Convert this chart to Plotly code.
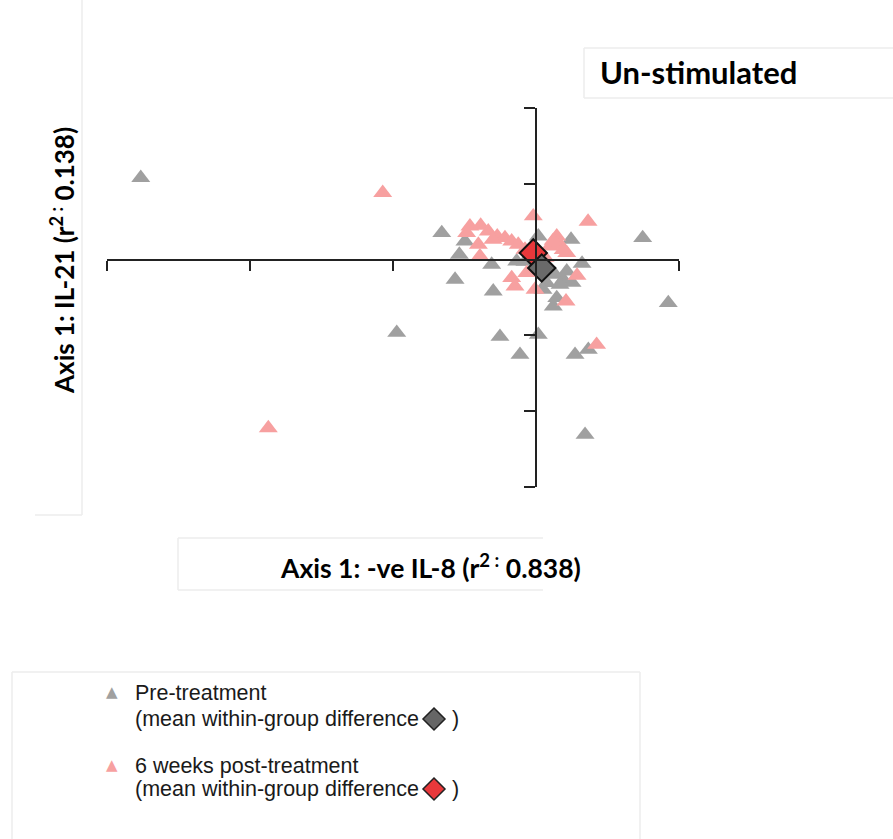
import plotly.graph_objects as go

# ---- data (ordination scores) ----
pre_x = [-2.764, -0.974, -0.659, -0.497, -0.536, -0.566, -0.310, -0.299, -0.252, -0.112,
         0.016, 0.343, 0.273, 0.366, 0.746, 0.925, 0.245, 0.322, 0.121, 0.145,
         0.016, 0.133, 0.191, 0.215, 0.075, -0.135, -0.077, 0.252, 0.049, 0.168]
pre_y = [1.079, -0.964, 0.352, 0.242, 0.066, -0.264, -0.066, -0.418, -1.017, -1.254,
         -0.990, -2.310, -1.254, -1.188, 0.286, -0.572, 0.264, -0.053, -0.617, -0.506,
         0.308, -0.198, -0.264, -0.154, -0.308, -0.022, -0.026, -0.304, -0.396, -0.330]

post_x = [-1.872, -1.072, -0.019, 0.364, 0.424, 0.210, 0.287, -0.007, -0.170, -0.147,
          -0.462, -0.387, -0.334, -0.271, -0.217, -0.170, -0.124, -0.403, -0.392, 0.145,
          0.098, 0.215, -0.065, -0.485, -0.077, 0.063, 0.168, -0.301, 0.120, 0.190]
post_y = [-2.222, 0.881, 0.572, 0.502, -1.122, -0.551, -0.211, -0.396, -0.242, -0.352,
          0.440, 0.449, 0.374, 0.308, 0.286, 0.242, 0.198, 0.198, 0.044, 0.308,
          0.176, 0.088, -0.176, 0.352, 0.132, 0.026, 0.198, 0.264, 0.250, 0.130]

mean_post = [-0.019, 0.088]
mean_pre = [0.040, -0.110]

x_ticks = [-3, -2, -1, 0, 1]
y_ticks = [-3, -2, -1, 0, 1, 2]

GREY = "#a0a0a0"
PINK = "#f7a0a0"

# ---- page geometry helpers (pixel -> paper) ----
L, R, T, B = 107, 679, 108, 487
W, H = 893, 839


def px(x):
    return (x - L) / (R - L)


def py(y):
    return (B - y) / (B - T)


fig = go.Figure()
fig.add_trace(go.Scatter(x=pre_x, y=pre_y, mode="markers", name="Pre-treatment",
                         marker=dict(symbol="triangle-up", size=16.5, color=GREY,
                                     line=dict(width=0))))
fig.add_trace(go.Scatter(x=post_x, y=post_y, mode="markers", name="6 weeks post-treatment",
                         marker=dict(symbol="triangle-up", size=16.5, color=PINK,
                                     line=dict(width=0))))
fig.add_trace(go.Scatter(x=[mean_post[0]], y=[mean_post[1]], mode="markers",
                         marker=dict(symbol="diamond", size=21, color="#e8383b",
                                     line=dict(width=2, color="#111111"))))
fig.add_trace(go.Scatter(x=[mean_pre[0]], y=[mean_pre[1]], mode="markers",
                         marker=dict(symbol="diamond", size=21, color="#6a6a6a",
                                     line=dict(width=2, color="#111111"))))

xr = [x_ticks[0], x_ticks[-1]]
yr = [y_ticks[0], y_ticks[-1]]

fig.update_xaxes(range=xr, tickvals=x_ticks, showticklabels=False, ticks="outside",
                 ticklen=10, tickwidth=2, tickcolor="#222222", showline=True,
                 linewidth=2, linecolor="#222222", showgrid=False, zeroline=False,
                 anchor="free", position=(0 - yr[0]) / (yr[1] - yr[0]))
fig.update_yaxes(range=yr, tickvals=y_ticks, showticklabels=False, ticks="outside",
                 ticklen=11, tickwidth=2, tickcolor="#222222", showline=True,
                 linewidth=2, linecolor="#222222", showgrid=False, zeroline=False,
                 anchor="free", position=(0 - xr[0]) / (xr[1] - xr[0]))

TFONT = "Lato"
LFONT = dict(family="Liberation Sans", size=21.5, color="#1a1a1a")
annos = [
    dict(x=px(430), y=py(566), text="Axis 1: -ve IL-8 (r<sup>2 :</sup> 0.838)",
         font=dict(family=TFONT, size=26.5, color="black", weight="bold")),
    dict(x=px(62), y=py(261), text="Axis 1: IL-21 (r<sup>2 :</sup> 0.138)", textangle=-90,
         font=dict(family=TFONT, size=26, color="black", weight="bold")),
    dict(x=px(598), y=py(72), xanchor="left", text="Un-stimulated",
         font=dict(family=TFONT, size=31, color="black", weight="bold")),
    dict(x=px(112), y=py(692), text="▲", font=dict(family="DejaVu Sans", size=15, color=GREY)),
    dict(x=px(112), y=py(765), text="▲", font=dict(family="DejaVu Sans", size=15, color=PINK)),
    dict(x=px(133), y=py(693), xanchor="left", text="Pre-treatment", font=LFONT),
    dict(x=px(133), y=py(719), xanchor="left", text="(mean within-group difference", font=LFONT),
    dict(x=px(450), y=py(719), xanchor="left", text=")", font=LFONT),
    dict(x=px(133), y=py(766), xanchor="left", text="6 weeks post-treatment", font=LFONT),
    dict(x=px(133), y=py(789), xanchor="left", text="(mean within-group difference", font=LFONT),
    dict(x=px(450), y=py(789), xanchor="left", text=")", font=LFONT),
]
for a in annos:
    a.setdefault("xanchor", "center")
    a.update(xref="paper", yref="paper", showarrow=False, yanchor="middle")
    fig.add_annotation(**a)


def diamond_path(cx, cy, r):
    pts = [(cx, cy - r), (cx + r, cy), (cx, cy + r), (cx - r, cy)]
    return "M " + " L ".join(f"{px(a):.5f},{py(b):.5f}" for a, b in pts) + " Z"


shapes = [
    dict(type="path", path=diamond_path(434, 719, 11), fillcolor="#666666",
         line=dict(color="#222222", width=1.5)),
    dict(type="path", path=diamond_path(434, 789, 11), fillcolor="#e8383b",
         line=dict(color="#222222", width=1.5)),
]
FAINT = "#ececec"
for (x0, y0, x1, y1) in [(82, 0, 82, 515), (35, 515, 82, 515),
                         (178, 538, 543, 538), (178, 538, 178, 590), (178, 590, 543, 590),
                         (584, 48, 893, 48), (584, 48, 584, 98), (584, 98, 893, 98),
                         (12, 672, 640, 672), (12, 672, 12, 839), (640, 672, 640, 839)]:
    shapes.append(dict(type="line", x0=px(x0), y0=py(y0), x1=px(x1), y1=py(y1),
                       line=dict(color=FAINT, width=1.5)))
for s in shapes:
    s.update(xref="paper", yref="paper")
    fig.add_shape(**s)

fig.update_layout(width=W, height=H, showlegend=False,
                  margin=dict(l=L, r=W - R, t=T, b=H - B, pad=0),
                  paper_bgcolor="white", plot_bgcolor="white")

fig.write_html("out.html")
